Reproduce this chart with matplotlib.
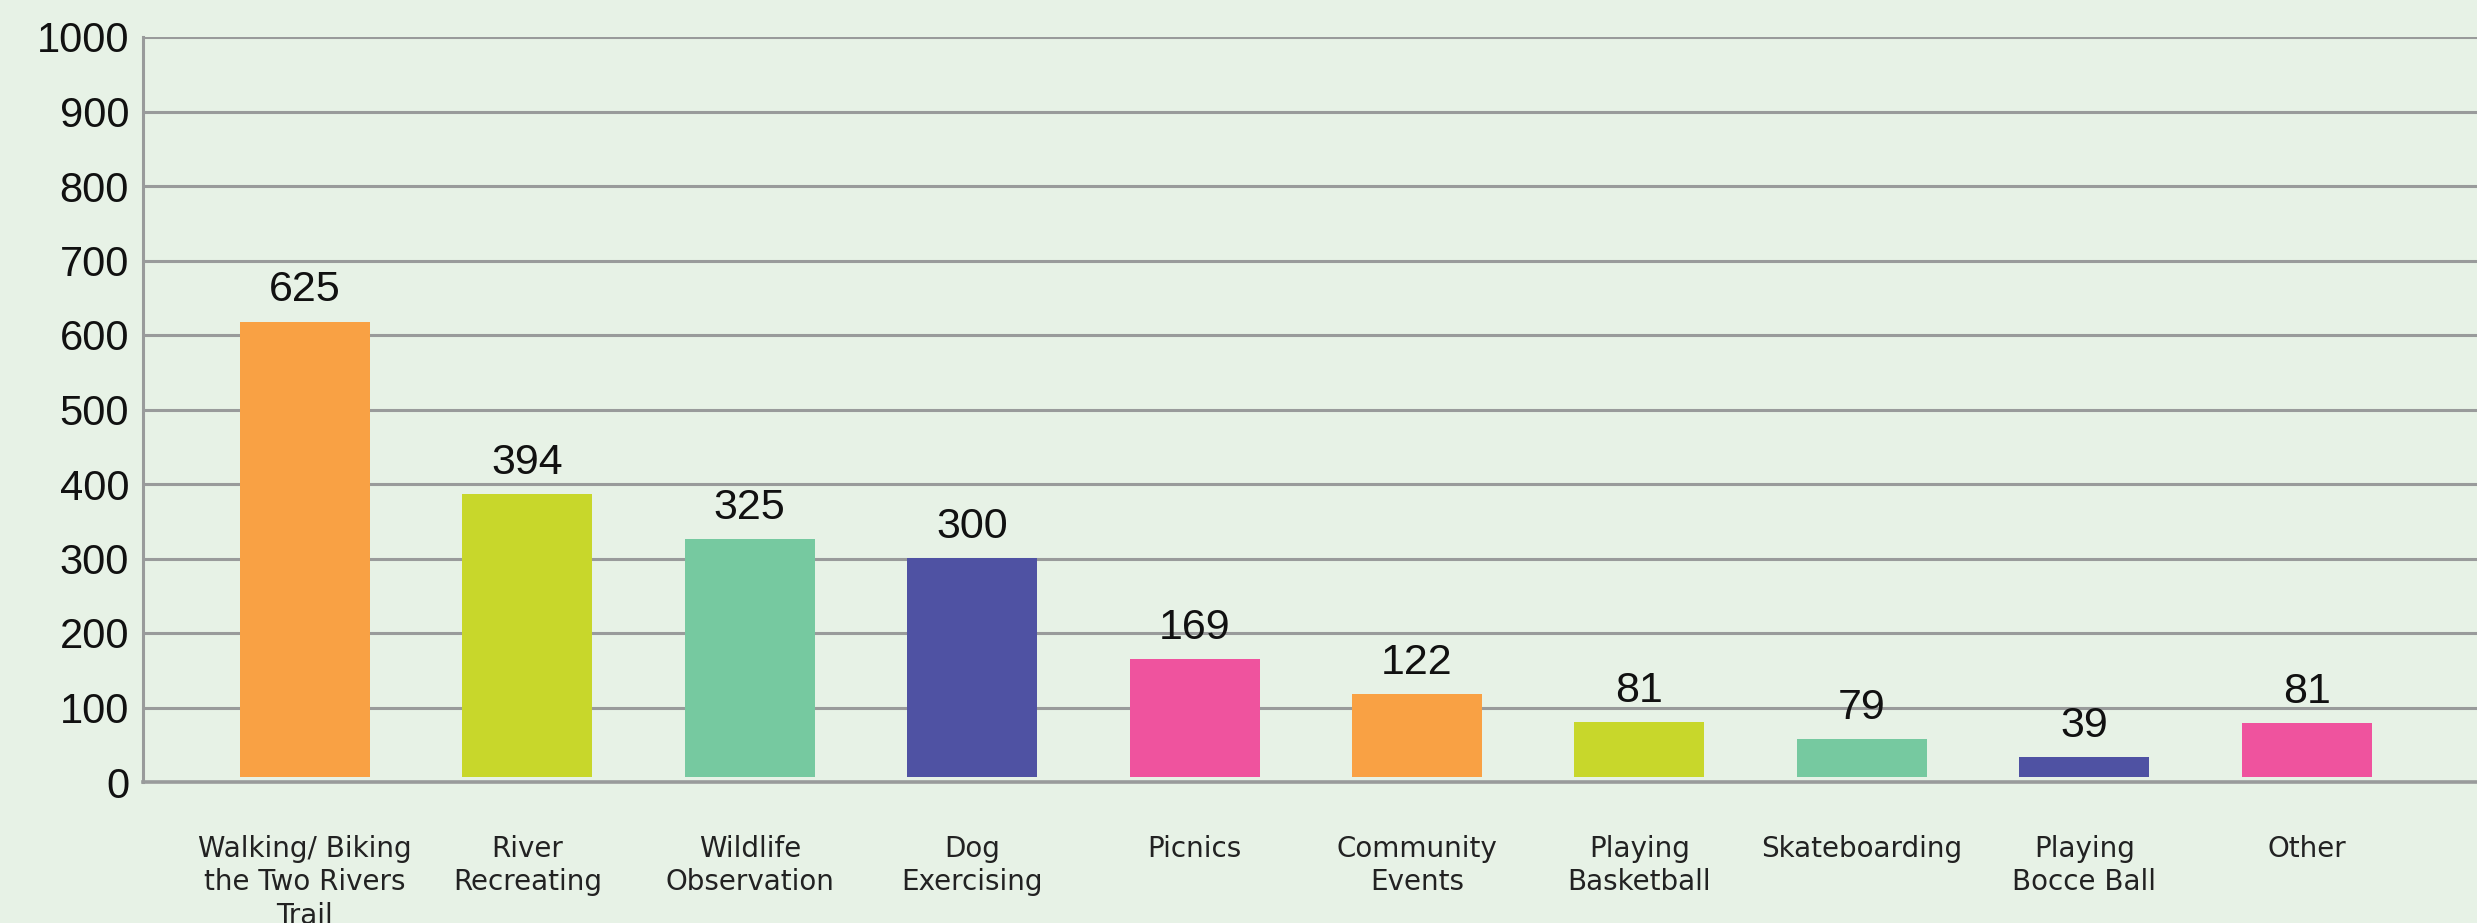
import matplotlib.pyplot as plt
import numpy as np

categories = [
    "Walking/ Biking\nthe Two Rivers\nTrail",
    "River\nRecreating",
    "Wildlife\nObservation",
    "Dog\nExercising",
    "Picnics",
    "Community\nEvents",
    "Playing\nBasketball",
    "Skateboarding",
    "Playing\nBocce Ball",
    "Other",
]
# bar tops as drawn in the picture
bar_values = [618, 387, 326, 301, 165, 118, 80, 58, 34, 79]
# printed labels above bars
value_labels = ["625", "394", "325", "300", "169", "122", "81", "79", "39", "81"]
colors = ["#F9A144", "#C8D72B", "#76C9A0", "#4F52A3", "#EF539E",
          "#F9A144", "#C8D72B", "#76C9A0", "#4F52A3", "#EF539E"]

bg = "#E7F2E6"
grid_col = "#999B9B"
base = 6.5  # bars float slightly above the zero line

fig = plt.figure(figsize=(24.77, 9.23), dpi=100, facecolor=bg)
ax = fig.add_axes([143 / 2477, 141 / 923, 1 - 143 / 2477, 745 / 923])
ax.set_facecolor(bg)

x = np.arange(len(categories))
vals = np.array(bar_values, dtype=float)
ax.bar(x, vals - base, bottom=base, width=0.585, color=colors, zorder=3)

for xi, v, lab in zip(x, vals, value_labels):
    ax.annotate(lab, (xi, v), xytext=(0, 8), textcoords="offset points",
                ha="center", va="bottom", fontsize=31, color="#111111",
                family=["Liberation Sans", "DejaVu Sans"], zorder=4)

ax.set_xlim(-0.728, 9.766)
ax.set_ylim(0, 1000)
ax.set_yticks(range(0, 1001, 100))
ax.yaxis.grid(True, color=grid_col, linewidth=2.2, zorder=1)
ax.set_axisbelow(True)

ax.set_xticks(x)
ax.set_xticklabels(categories, fontsize=20, color="#222222", linespacing=1.25,
                   family=["Liberation Sans Narrow", "DejaVu Sans"])
for t in ax.get_yticklabels():
    t.set_fontsize(30)
    t.set_family(["Liberation Sans", "DejaVu Sans"])
    t.set_color("#111111")

ax.tick_params(axis="x", length=0, pad=38)
ax.tick_params(axis="y", length=0, pad=10)

for s in ["top", "right"]:
    ax.spines[s].set_visible(False)
ax.spines["left"].set_color(grid_col)
ax.spines["left"].set_linewidth(2.2)
ax.spines["bottom"].set_color(grid_col)
ax.spines["bottom"].set_linewidth(2.6)

fig.savefig("out.png", dpi=100, facecolor=bg)
